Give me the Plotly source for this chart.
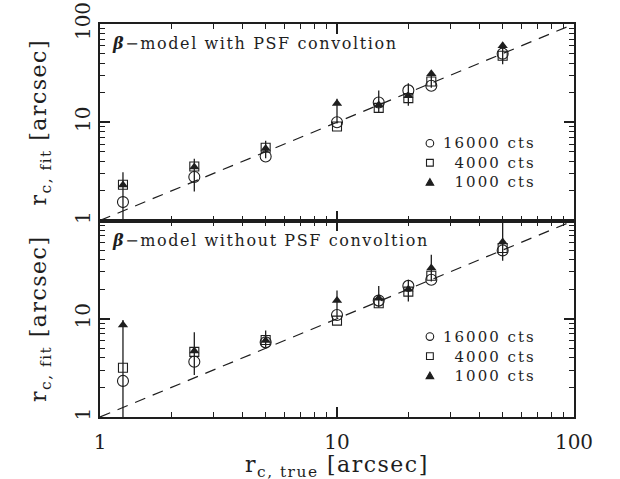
import plotly.graph_objects as go

# true core radii (arcsec)
r_true = [1.25, 2.5, 5, 10, 15, 20, 25, 50]

# fitted core radii, beta-model with PSF convolution
fit_psf_16000 = [1.54, 2.77, 4.48, 10.0, 15.9, 21.1, 23.5, 49.9]
fit_psf_4000 = [2.31, 3.55, 5.5, 9.06, 14.0, 17.6, 26.0, 47.5]
fit_psf_1000 = [2.3, 3.5, 5.4, 15.5, 15.0, 18.6, 31.2, 60.0]
err_psf_1000_hi = [0.8, 0.75, 1.1, 1.8, 6.0, 6.4, 2.5, 5.0]
err_psf_1000_lo = [1.35, 1.53, 1.1, 5.8, 2.5, 3.9, 8.7, 21.0]

# fitted core radii, beta-model without PSF convolution
fit_nopsf_16000 = [2.33, 3.65, 5.75, 10.9, 15.3, 21.6, 24.9, 49.6]
fit_nopsf_4000 = [3.17, 4.6, 6.07, 9.56, 14.4, 18.9, 27.4, 52.5]
fit_nopsf_1000 = [8.65, 4.7, 6.0, 15.3, 16.2, 20.0, 32.8, 60.4]
err_nopsf_1000_hi = [1.05, 2.6, 1.6, 4.1, 5.4, 5.0, 12.1, 38.0]
err_nopsf_1000_lo = [7.7, 2.03, 0.9, 5.1, 3.2, 5.0, 8.8, 21.4]

# one-to-one relation
one_to_one = [1, 100]

series_names = ["16000 cts", "4000 cts", "1000 cts"]
panel_titles = ["<b><i>β</i></b>−model with PSF convoltion",
                "<b><i>β</i></b>−model without PSF convoltion"]

INK = "#1e1e1e"
FONT = "DejaVu Serif"


def spaced(text, px):
    """Wrap a text in a span with extra letter spacing."""
    return f'<span style="letter-spacing:{px}px">{text}</span>'


fig = go.Figure()


def add_panel(xa, ya, c16, c4, c1, ehi, elo):
    fig.add_trace(go.Scatter(
        x=one_to_one, y=one_to_one, mode="lines", xaxis=xa, yaxis=ya,
        line=dict(color=INK, width=1.2, dash="11px,8px"), showlegend=False,
        hoverinfo="skip"))
    fig.add_trace(go.Scatter(
        x=r_true, y=c1, mode="markers", xaxis=xa, yaxis=ya, name=series_names[2],
        marker=dict(symbol="triangle-up", size=9, color=INK),
        error_y=dict(type="data", symmetric=False, array=ehi, arrayminus=elo,
                     color=INK, thickness=1.3, width=0),
        showlegend=False))
    fig.add_trace(go.Scatter(
        x=r_true, y=c4, mode="markers", xaxis=xa, yaxis=ya, name=series_names[1],
        marker=dict(symbol="square-open", size=9, color=INK, line=dict(width=1.1)),
        showlegend=False))
    fig.add_trace(go.Scatter(
        x=r_true, y=c16, mode="markers", xaxis=xa, yaxis=ya, name=series_names[0],
        marker=dict(symbol="circle-open", size=11, color=INK, line=dict(width=1.1)),
        showlegend=False))


add_panel("x2", "y2", fit_psf_16000, fit_psf_4000, fit_psf_1000,
          err_psf_1000_hi, err_psf_1000_lo)
add_panel("x", "y", fit_nopsf_16000, fit_nopsf_4000, fit_nopsf_1000,
          err_nopsf_1000_hi, err_nopsf_1000_lo)

minor_vals = [2, 3, 4, 5, 6, 7, 8, 9, 20, 30, 40, 50, 60, 70, 80, 90]

axis_common = dict(
    type="log", range=[0, 2], showline=True, linewidth=2, linecolor=INK,
    mirror="allticks", ticks="inside", ticklen=10, tickwidth=1.5, tickcolor=INK,
    showgrid=False, zeroline=False, automargin=False,
    minor=dict(tickvals=minor_vals, ticks="inside", ticklen=5, tickwidth=1.2,
               tickcolor=INK, showgrid=False),
    tickfont=dict(family=FONT, size=20, color=INK),
)

y_title = spaced("r<sub>c, fit</sub> [arcsec]", 1.5)
title_font = dict(family=FONT, size=22, color=INK)

fig.update_layout(
    width=620, height=479,
    margin=dict(l=100, r=46, t=24, b=62, autoexpand=False),
    paper_bgcolor="white", plot_bgcolor="white",
    showlegend=False,
    xaxis=dict(axis_common, anchor="y", domain=[0, 1],
               tickvals=[1, 10, 100], ticktext=["1", "10", "100"],
               ticklabelstandoff=6),
    xaxis2=dict(axis_common, anchor="y2", domain=[0, 1], matches="x",
                tickvals=[1, 10, 100], showticklabels=False),
    yaxis=dict(axis_common, anchor="x", domain=[0, 0.5], tickangle=-90,
               tickvals=[1, 10], ticktext=["1", "10"],
               title=dict(text=y_title, font=title_font, standoff=18)),
    yaxis2=dict(axis_common, anchor="x2", domain=[0.5, 1], tickangle=-90,
                tickvals=[1, 10, 100], ticktext=["1", "10", "100"],
                title=dict(text=y_title, font=title_font, standoff=18)),
)

# x-axis title, set just below the tick labels at the foot of the page
fig.add_annotation(text=spaced("r<sub>c, true</sub> [arcsec]", 1.5),
                   xref="x domain", yref="paper", x=0.5, y=-0.083,
                   xanchor="center", yanchor="top", showarrow=False,
                   font=title_font)

# panel captions
for ya, txt in (("y2", panel_titles[0]), ("y", panel_titles[1])):
    fig.add_annotation(text=spaced(txt, 1.6), xref="x domain", yref=f"{ya} domain",
                       x=0.022, y=0.9, xanchor="left", yanchor="middle",
                       showarrow=False, font=dict(family=FONT, size=16, color=INK))

# key block inside each panel: right-aligned labels with symbols to the left
key_mid = {"y2": 0.294, "y": 0.31}
key_step = 19.5
key_x = 0.696
for ya, mid in key_mid.items():
    xr, yr = "x domain", f"{ya} domain"
    fig.add_annotation(text="<br>".join(spaced(n, 2) for n in series_names),
                       xref=xr, yref=yr, x=0.924, y=mid, xanchor="right",
                       yanchor="middle", align="right", showarrow=False,
                       font=dict(family=FONT, size=15, color=INK))
    base = dict(xref=xr, yref=yr, xsizemode="pixel", ysizemode="pixel",
                xanchor=key_x, yanchor=mid, line=dict(color=INK, width=1.1))
    fig.add_shape(type="circle", x0=-3.8, x1=3.8,
                  y0=key_step - 3.8, y1=key_step + 3.8, **base)
    fig.add_shape(type="rect", x0=-3.4, x1=3.4, y0=-3.4, y1=3.4, **base)
    fig.add_shape(type="path",
                  path=f"M-3.8,{-key_step - 3} L3.8,{-key_step - 3} L0,{-key_step + 3.6} Z",
                  fillcolor=INK, **base)

fig.write_html("out.html")
